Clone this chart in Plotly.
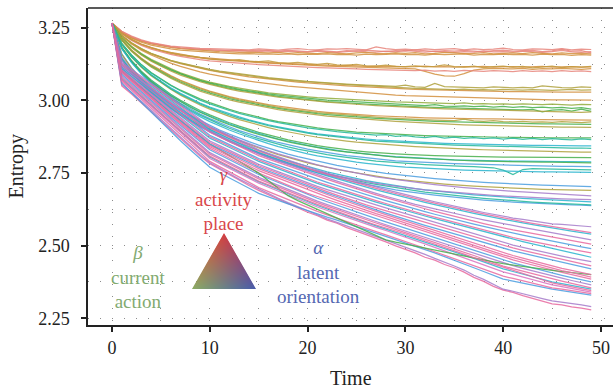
import base64, struct, zlib
import numpy as np
import plotly.graph_objects as go

TIME = list(range(50))

# ---- entropy values (in thousandths) ----
# plateau near 3.165
G1 = [
 [3265,3238,3221,3208,3199,3192,3187,3184,3181,3179, 3178,3177,3175,3176,3174,3177,3175,3173,3176,3178, 3175,3174,3177,3176,3178,3175,3174,3184,3178,3175, 3176,3174,3177,3175,3176,3178,3174,3177,3175,3176, 3180,3175,3174,3177,3176,3175,3178,3174,3176,3175],
 [3265,3236,3218,3205,3196,3189,3184,3180,3177,3175, 3173,3172,3170,3171,3169,3168,3170,3167,3169,3168, 3166,3169,3167,3165,3168,3170,3167,3166,3169,3167, 3172,3168,3166,3169,3167,3165,3168,3166,3170,3167, 3168,3166,3169,3167,3165,3168,3172,3167,3165,3168],
 [3265,3235,3216,3203,3194,3187,3182,3178,3175,3172, 3170,3168,3167,3165,3166,3164,3163,3165,3162,3164, 3163,3161,3164,3162,3160,3163,3165,3162,3161,3163, 3162,3164,3160,3162,3165,3163,3161,3162,3164,3160, 3162,3163,3161,3164,3162,3160,3163,3161,3162,3160],
 [3265,3234,3214,3200,3190,3183,3177,3173,3170,3167, 3165,3163,3162,3160,3161,3159,3160,3158,3160,3157, 3159,3158,3160,3157,3158,3156,3159,3157,3158,3160, 3157,3158,3156,3159,3157,3158,3160,3156,3158,3157, 3159,3157,3158,3156,3159,3157,3158,3155,3157,3156],
 [3265,3237,3219,3206,3197,3190,3185,3181,3178,3176, 3175,3173,3171,3172,3170,3173,3171,3169,3172,3170, 3168,3172,3170,3167,3171,3169,3173,3170,3168,3171, 3169,3174,3170,3168,3171,3169,3172,3170,3167,3171, 3173,3169,3170,3172,3168,3170,3176,3169,3171,3163],
]
# plateau near 3.11
G2 = [
 [3265,3231,3210,3194,3182,3172,3165,3158,3153,3148, 3145,3142,3139,3137,3134,3132,3130,3128,3127,3125, 3124,3122,3121,3119,3120,3118,3117,3118,3116,3117, 3115,3116,3118,3115,3116,3114,3116,3115,3117,3114, 3115,3116,3114,3115,3117,3114,3115,3116,3114,3115],
 [3265,3230,3208,3192,3180,3170,3162,3155,3150,3145, 3142,3139,3136,3134,3132,3130,3128,3126,3124,3123, 3121,3120,3118,3117,3116,3115,3114,3113,3112,3111, 3110,3108,3100,3090,3084,3083,3092,3104,3108,3110, 3109,3108,3110,3107,3109,3108,3110,3108,3107,3109],
 [3265,3229,3206,3189,3176,3166,3158,3151,3145,3140, 3136,3133,3130,3127,3125,3123,3121,3119,3118,3116, 3115,3113,3112,3110,3109,3108,3107,3106,3105,3104, 3103,3102,3104,3101,3102,3100,3103,3101,3100,3102, 3101,3099,3102,3100,3101,3099,3102,3100,3101,3099],
 [3265,3230,3209,3193,3181,3171,3163,3157,3152,3147, 3143,3140,3138,3140,3135,3133,3136,3130,3128,3131, 3126,3124,3127,3122,3121,3124,3119,3118,3121,3117, 3116,3119,3115,3117,3122,3116,3114,3118,3113,3116, 3118,3114,3117,3112,3115,3118,3113,3116,3114,3117],
]
# plateau near 3.03
G3 = [
 [3265,3223,3198,3178,3162,3149,3138,3129,3121,3113, 3107,3101,3096,3091,3086,3082,3078,3075,3071,3068, 3065,3063,3060,3058,3056,3054,3052,3050,3049,3048, 3052,3046,3045,3058,3047,3046,3044,3045,3043,3046, 3044,3043,3045,3043,3050,3046,3044,3043,3046,3045],
 [3265,3222,3196,3176,3160,3147,3136,3126,3118,3110, 3103,3097,3091,3086,3081,3077,3073,3069,3066,3063, 3060,3057,3055,3052,3050,3048,3046,3044,3042,3041, 3040,3038,3037,3036,3035,3034,3033,3032,3032,3031, 3031,3030,3030,3029,3029,3028,3028,3028,3027,3028],
 [3265,3221,3194,3173,3156,3141,3128,3117,3107,3098, 3090,3083,3077,3071,3066,3061,3057,3053,3049,3046, 3043,3040,3037,3034,3032,3029,3026,3023,3020,3018, 3016,3015,3013,3012,3011,3010,3009,3008,3007,3006, 3005,3005,3004,3003,3003,3002,3002,3001,3000,3001],
 [3265,3223,3197,3177,3161,3148,3137,3128,3120,3112, 3105,3099,3094,3089,3084,3080,3076,3073,3069,3066, 3064,3061,3058,3056,3054,3052,3050,3047,3045,3044, 3042,3041,3040,3039,3038,3037,3039,3036,3037,3035, 3038,3036,3035,3037,3035,3034,3036,3038,3035,3036],
]
# plateau near 2.975
G4 = [
 [3265,3216,3186,3161,3141,3124,3109,3095,3083,3072, 3063,3055,3048,3042,3036,3031,3026,3022,3018,3015, 3012,3009,3007,3005,3003,3001,2999,2998,2996,2995, 2994,2993,2992,2991,2990,2989,2991,2988,2989,2987, 2988,2986,2988,2987,2985,2987,2986,2984,2986,2985],
 [3265,3215,3184,3159,3138,3121,3106,3092,3080,3069, 3060,3052,3045,3038,3033,3027,3022,3018,3014,3010, 3007,3004,3001,2999,2996,2994,2992,2990,2988,2986, 2985,2983,2982,2985,2980,2979,2981,2978,2980,2977, 2979,2976,2978,2975,2977,2974,2976,2972,2975,2970],
 [3265,3214,3183,3158,3137,3119,3104,3090,3078,3067, 3057,3049,3041,3035,3029,3023,3019,3014,3010,3006, 3003,2999,2996,2994,2991,2989,2987,2985,2983,2981, 2980,2978,2977,2976,2975,2973,2972,2971,2970,2969, 2970,2968,2967,2969,2960,2966,2968,2963,2970,2962],
 [3265,3214,3182,3156,3135,3117,3101,3087,3075,3064, 3055,3046,3039,3032,3026,3021,3016,3011,3007,3003, 3000,2997,2994,2991,2989,2986,2984,2982,2980,2978, 2977,2975,2974,2972,2971,2970,2969,2968,2967,2966, 2965,2964,2963,2963,2962,2961,2961,2960,2959,2960],
]
# plateau near 2.92
G5 = [
 [3265,3209,3173,3145,3122,3102,3085,3069,3055,3043, 3032,3022,3013,3005,2998,2991,2985,2980,2975,2970, 2966,2962,2959,2956,2953,2951,2949,2947,2945,2944, 2942,2941,2940,2939,2938,2938,2937,2937,2936,2936, 2935,2935,2935,2934,2934,2934,2933,2933,2933,2932],
 [3265,3208,3172,3144,3120,3100,3083,3067,3053,3040, 3029,3019,3010,3002,2995,2988,2982,2976,2971,2966, 2962,2958,2955,2952,2949,2946,2944,2942,2940,2938, 2936,2935,2934,2932,2931,2930,2935,2929,2928,2930, 2927,2926,2928,2925,2926,2924,2927,2925,2923,2926],
 [3265,3207,3170,3141,3117,3097,3079,3063,3049,3036, 3025,3015,3006,2998,2991,2984,2978,2972,2967,2962, 2958,2954,2951,2948,2945,2942,2940,2938,2936,2934, 2932,2931,2929,2928,2927,2926,2925,2924,2923,2922, 2922,2921,2920,2920,2919,2919,2918,2918,2918,2917],
 [3265,3206,3169,3140,3115,3094,3076,3060,3045,3032, 3021,3011,3002,2994,2987,2980,2974,2968,2963,2958, 2954,2950,2946,2943,2940,2937,2934,2932,2930,2928, 2926,2924,2922,2921,2919,2918,2916,2915,2914,2913, 2912,2911,2911,2910,2909,2909,2908,2908,2907,2907],
]
# plateau near 2.82-2.87
G6 = [
 [3265,3196,3156,3123,3096,3073,3053,3035,3019,3005, 2992,2980,2969,2959,2950,2942,2934,2927,2921,2915, 2910,2905,2901,2897,2894,2891,2889,2887,2885,2883, 2882,2880,2879,2878,2877,2876,2876,2875,2874,2874, 2873,2873,2872,2872,2872,2871,2871,2871,2870,2871],
 [3265,3195,3155,3122,3094,3071,3051,3033,3016,3001, 2988,2976,2965,2955,2946,2937,2930,2923,2916,2911, 2905,2900,2896,2892,2889,2886,2883,2880,2882,2876, 2879,2874,2872,2876,2870,2873,2869,2872,2868,2871, 2867,2870,2866,2869,2865,2868,2866,2864,2867,2865],
 [3265,3193,3151,3117,3088,3064,3043,3024,3007,2991, 2977,2965,2953,2943,2933,2924,2916,2909,2902,2896, 2890,2885,2881,2877,2873,2870,2867,2864,2862,2860, 2858,2856,2855,2853,2852,2851,2850,2849,2848,2848, 2847,2846,2846,2845,2845,2844,2844,2844,2843,2843],
 [3265,3192,3149,3114,3085,3060,3038,3018,3000,2984, 2970,2957,2945,2934,2924,2915,2906,2898,2891,2885, 2879,2873,2868,2864,2860,2856,2853,2850,2847,2845, 2843,2841,2839,2837,2835,2834,2832,2831,2830,2829, 2828,2827,2826,2825,2825,2824,2823,2823,2822,2822],
 [3265,3193,3150,3116,3087,3062,3040,3021,3004,2988, 2974,2961,2950,2939,2930,2921,2913,2906,2899,2893, 2887,2882,2878,2874,2870,2866,2863,2860,2858,2856, 2854,2852,2850,2849,2847,2846,2845,2844,2843,2842, 2841,2840,2839,2839,2838,2837,2837,2836,2836,2835],
]
# plateau near 2.75-2.80
G8 = [
 [3265,3182,3137,3100,3070,3044,3021,3000,2982,2965, 2950,2936,2923,2911,2900,2890,2881,2872,2864,2857, 2850,2844,2839,2834,2830,2826,2823,2820,2818,2816, 2814,2812,2811,2810,2809,2808,2807,2807,2806,2806, 2805,2805,2805,2804,2804,2804,2803,2803,2803,2803],
 [3265,3181,3135,3098,3067,3041,3018,2997,2978,2961, 2946,2932,2919,2907,2896,2886,2876,2867,2859,2852, 2845,2839,2833,2828,2823,2819,2815,2812,2809,2806, 2804,2801,2799,2797,2796,2795,2794,2793,2793,2792, 2792,2791,2791,2790,2790,2790,2789,2789,2789,2788],
 [3265,3180,3133,3095,3063,3036,3012,2990,2971,2953, 2937,2922,2909,2896,2885,2874,2864,2855,2847,2839, 2832,2826,2820,2815,2810,2806,2802,2798,2795,2792, 2790,2788,2786,2784,2783,2782,2781,2780,2779,2778, 2777,2776,2775,2775,2774,2774,2773,2773,2772,2772],
 [3265,3179,3132,3093,3061,3033,3009,2987,2967,2949, 2933,2918,2904,2891,2879,2868,2858,2849,2840,2832, 2825,2819,2813,2808,2803,2799,2795,2791,2788,2785, 2783,2781,2779,2777,2776,2774,2773,2772,2770,2768, 2760,2745,2762,2765,2764,2763,2762,2762,2761,2761],
 [3265,3181,3134,3097,3066,3039,3016,2995,2976,2959, 2943,2929,2916,2904,2893,2883,2874,2865,2857,2850, 2843,2837,2831,2826,2822,2818,2814,2811,2808,2805, 2803,2801,2799,2797,2796,2794,2793,2792,2791,2790, 2789,2789,2788,2788,2787,2787,2786,2786,2786,2785],
 [3265,3178,3130,3091,3058,3030,3005,2983,2963,2944, 2927,2912,2898,2885,2873,2861,2851,2841,2832,2824, 2816,2809,2803,2797,2792,2787,2783,2779,2776,2773, 2770,2768,2766,2764,2763,2761,2760,2759,2758,2757, 2756,2756,2755,2755,2754,2754,2753,2753,2753,2752],
]
# plateau near 2.63-2.70
G9 = [
 [3265,3160,3112,3075,3043,3015,2991,2969,2949,2931, 2914,2898,2884,2870,2858,2846,2835,2825,2815,2806, 2798,2790,2783,2776,2770,2764,2759,2754,2749,2745, 2741,2737,2734,2731,2728,2725,2722,2720,2718,2716, 2714,2712,2711,2709,2708,2707,2706,2705,2704,2703],
 [3265,3158,3110,3072,3040,3012,2987,2964,2943,2924, 2906,2890,2875,2861,2848,2836,2824,2813,2803,2794, 2785,2777,2769,2762,2756,2750,2744,2739,2734,2729, 2725,2721,2718,2715,2712,2709,2707,2705,2703,2701, 2699,2698,2696,2695,2694,2693,2692,2691,2690,2690],
 [3265,3150,3105,3069,3038,3011,2987,2965,2945,2926, 2909,2893,2878,2864,2851,2839,2827,2816,2806,2796, 2787,2778,2770,2763,2756,2749,2743,2737,2732,2727, 2722,2718,2714,2710,2706,2703,2700,2697,2694,2692, 2689,2687,2685,2683,2681,2679,2677,2675,2673,2671],
 [3265,3145,3100,3063,3032,3005,2980,2958,2937,2918, 2900,2883,2868,2853,2840,2827,2815,2803,2792,2782, 2772,2763,2754,2746,2738,2731,2724,2718,2712,2706, 2701,2696,2692,2688,2684,2681,2678,2675,2672,2670, 2668,2665,2663,2661,2660,2658,2656,2654,2652,2651],
 [3265,3140,3096,3059,3027,2999,2974,2951,2930,2910, 2892,2875,2859,2844,2830,2817,2804,2792,2781,2770, 2760,2751,2742,2733,2725,2718,2711,2704,2698,2692, 2687,2682,2678,2674,2670,2666,2663,2660,2657,2654, 2652,2650,2648,2646,2644,2643,2641,2640,2639,2638],
 [3265,3142,3098,3061,3029,3001,2976,2953,2932,2913, 2895,2878,2862,2847,2833,2820,2808,2796,2785,2775, 2765,2756,2747,2739,2731,2724,2717,2711,2705,2699, 2694,2689,2684,2680,2676,2672,2669,2666,2663,2660, 2657,2655,2652,2650,2648,2646,2644,2642,2641,2640],
 [3265,3138,3094,3057,3025,2997,2972,2949,2928,2909, 2891,2874,2858,2843,2830,2817,2805,2794,2783,2773, 2764,2755,2747,2740,2733,2726,2720,2714,2709,2704, 2700,2696,2692,2689,2686,2683,2680,2677,2675,2673, 2671,2669,2667,2666,2664,2663,2661,2660,2659,2658],
]
# steadily falling lines
DESC = [
 [3265,3050,3022,2993,2961,2930,2900,2868,2839,2808, 2782,2763,2743,2726,2707,2690,2675,2659,2645,2629, 2615,2603,2588,2577,2562,2550,2538,2524,2513,2499, 2487,2475,2460,2450,2435,2424,2409,2391,2377,2360, 2347,2339,2328,2319,2308,2300,2296,2289,2285,2279],
 [3265,3055,3027,2998,2967,2935,2904,2873,2843,2813, 2785,2766,2748,2729,2712,2695,2680,2663,2648,2634, 2618,2606,2592,2580,2568,2555,2543,2532,2519,2507, 2495,2482,2470,2456,2444,2430,2416,2398,2384,2366, 2350,2343,2334,2327,2318,2310,2306,2300,2296,2290],
 [3265,3060,3026,2993,2959,2925,2893,2861,2830,2799, 2770,2751,2733,2714,2697,2680,2668,2655,2644,2632, 2620,2609,2598,2588,2576,2565,2554,2543,2532,2521, 2510,2498,2486,2475,2462,2450,2437,2424,2411,2398, 2385,2378,2371,2364,2356,2350,2345,2340,2335,2330],
 [3265,3065,3035,3005,2975,2945,2914,2883,2852,2821, 2790,2772,2754,2736,2718,2700,2686,2672,2658,2644, 2630,2618,2606,2594,2582,2570,2559,2548,2537,2526, 2515,2503,2491,2479,2467,2455,2443,2431,2419,2407, 2395,2387,2379,2371,2363,2355,2350,2345,2340,2335],
 [3265,3070,3040,3010,2980,2950,2920,2890,2860,2830, 2800,2783,2766,2749,2732,2715,2701,2687,2673,2659, 2645,2633,2621,2609,2597,2585,2574,2563,2552,2541, 2530,2518,2506,2494,2482,2470,2458,2446,2434,2422, 2410,2401,2392,2383,2374,2365,2359,2353,2346,2340],
 [3265,3075,3045,3015,2985,2955,2925,2895,2865,2835, 2805,2788,2771,2754,2737,2720,2706,2692,2678,2664, 2650,2638,2626,2614,2602,2590,2579,2568,2557,2546, 2535,2524,2513,2502,2491,2480,2468,2456,2444,2432, 2420,2411,2402,2393,2384,2375,2369,2362,2356,2350],
 [3265,3080,3050,3020,2990,2960,2931,2902,2873,2844, 2815,2798,2781,2764,2747,2730,2716,2702,2688,2674, 2660,2648,2636,2624,2612,2600,2589,2578,2567,2556, 2545,2534,2523,2512,2501,2490,2478,2466,2454,2442, 2430,2421,2412,2403,2394,2385,2378,2370,2363,2355],
 [3265,3085,3055,3025,2995,2965,2936,2907,2878,2849, 2820,2803,2786,2769,2752,2735,2721,2707,2693,2679, 2665,2653,2641,2629,2617,2605,2594,2583,2572,2561, 2550,2539,2528,2517,2506,2495,2484,2473,2462,2451, 2440,2431,2422,2413,2404,2395,2388,2380,2373,2365],
 [3265,3090,3060,3030,3000,2970,2942,2914,2886,2858, 2830,2813,2796,2779,2762,2745,2731,2717,2703,2689, 2675,2663,2651,2639,2627,2615,2604,2593,2582,2571, 2560,2549,2538,2527,2516,2505,2494,2483,2472,2461, 2450,2441,2432,2423,2414,2405,2398,2390,2383,2375],
 [3265,3095,3065,3035,3005,2975,2947,2919,2891,2863, 2835,2818,2801,2784,2767,2750,2736,2722,2708,2694, 2680,2669,2658,2647,2636,2625,2614,2603,2592,2581, 2570,2559,2548,2537,2526,2515,2504,2493,2482,2471, 2460,2451,2442,2433,2424,2415,2408,2400,2393,2385],
 [3265,3100,3071,3042,3013,2985,2958,2931,2904,2877, 2850,2830,2810,2790,2770,2750,2723,2697,2672,2655, 2640,2625,2610,2595,2580,2565,2550,2535,2520,2512, 2505,2498,2491,2484,2477,2470,2463,2457,2451,2444, 2438,2433,2429,2424,2420,2415,2411,2407,2404,2400],
 [3265,3100,3070,3040,3010,2980,2953,2926,2899,2872, 2845,2829,2813,2797,2781,2765,2752,2739,2726,2713, 2700,2688,2676,2664,2652,2640,2629,2618,2607,2596, 2585,2574,2563,2552,2541,2530,2519,2508,2497,2486, 2475,2466,2457,2448,2439,2430,2422,2415,2407,2400],
 [3265,3105,3075,3045,3015,2985,2958,2931,2904,2877, 2850,2834,2818,2802,2786,2770,2757,2744,2731,2718, 2705,2693,2681,2669,2657,2645,2634,2623,2612,2601, 2590,2580,2570,2560,2550,2540,2530,2520,2510,2500, 2490,2482,2474,2466,2458,2450,2442,2435,2427,2420],
 [3265,3105,3076,3047,3018,2990,2963,2936,2909,2882, 2855,2839,2823,2807,2791,2775,2762,2749,2736,2723, 2710,2698,2686,2674,2662,2650,2640,2630,2620,2610, 2600,2590,2580,2570,2560,2550,2540,2530,2520,2510, 2500,2492,2484,2476,2468,2460,2452,2445,2437,2430],
 [3265,3110,3081,3052,3023,2995,2968,2941,2914,2887, 2860,2844,2828,2812,2796,2780,2767,2754,2741,2728, 2715,2704,2693,2682,2671,2660,2650,2640,2630,2620, 2610,2600,2590,2580,2570,2560,2550,2540,2530,2520, 2510,2502,2494,2486,2478,2470,2464,2457,2451,2445],
 [3265,3110,3083,3055,3028,3000,2974,2948,2922,2896, 2870,2854,2838,2822,2806,2790,2777,2764,2751,2738, 2725,2714,2703,2692,2681,2670,2660,2650,2640,2630, 2620,2611,2602,2593,2584,2575,2566,2557,2548,2539, 2530,2522,2514,2506,2498,2490,2482,2475,2467,2460],
 [3265,3115,3088,3060,3033,3005,2979,2953,2927,2901, 2875,2859,2843,2827,2811,2795,2782,2769,2756,2743, 2730,2719,2708,2697,2686,2675,2665,2655,2645,2635, 2625,2616,2607,2598,2589,2580,2571,2562,2553,2544, 2535,2528,2521,2514,2507,2500,2494,2487,2481,2475],
 [3265,3115,3089,3063,3036,3010,2984,2958,2932,2906, 2880,2864,2848,2832,2816,2800,2788,2776,2764,2752, 2740,2729,2718,2707,2696,2685,2675,2665,2655,2645, 2635,2626,2617,2608,2599,2590,2582,2574,2566,2558, 2550,2543,2536,2529,2522,2515,2509,2502,2496,2490],
 [3265,3120,3094,3068,3041,3015,2990,2965,2940,2915, 2890,2874,2858,2842,2826,2810,2798,2786,2774,2762, 2750,2739,2728,2717,2706,2695,2685,2675,2665,2655, 2645,2636,2627,2618,2609,2600,2592,2584,2576,2568, 2560,2554,2548,2542,2536,2530,2524,2517,2511,2505],
 [3265,3120,3095,3070,3045,3020,2995,2970,2945,2920, 2895,2879,2863,2847,2831,2815,2803,2791,2779,2767, 2755,2744,2733,2722,2711,2700,2690,2680,2670,2660, 2650,2642,2634,2626,2618,2610,2603,2596,2589,2582, 2575,2569,2563,2557,2551,2545,2539,2532,2526,2520],
 [3265,3125,3100,3075,3050,3025,3000,2975,2950,2925, 2900,2884,2868,2852,2836,2820,2808,2796,2784,2772, 2760,2750,2740,2730,2720,2710,2701,2692,2683,2674, 2665,2657,2649,2641,2633,2625,2618,2611,2604,2597, 2590,2584,2578,2572,2566,2560,2555,2550,2545,2540],
 [3265,3125,3101,3078,3054,3030,3005,2980,2955,2930, 2905,2889,2873,2857,2841,2825,2813,2801,2789,2777, 2765,2755,2745,2735,2725,2715,2706,2697,2688,2679, 2670,2662,2654,2646,2638,2630,2623,2616,2609,2602, 2595,2589,2583,2577,2571,2565,2560,2555,2550,2545],
 [3265,3130,3106,3083,3059,3035,3010,2985,2960,2935, 2910,2894,2878,2862,2846,2830,2818,2806,2794,2782, 2770,2760,2750,2740,2730,2720,2711,2702,2693,2684, 2675,2667,2659,2651,2643,2635,2628,2621,2614,2607, 2600,2595,2590,2585,2580,2575,2573,2570,2568,2565],
 [3265,3072,3042,3012,2982,2952,2923,2894,2865,2836, 2808,2791,2774,2756,2739,2722,2709,2695,2682,2668, 2655,2642,2630,2617,2605,2592,2582,2571,2561,2550, 2540,2528,2517,2505,2494,2482,2471,2459,2448,2436, 2425,2414,2404,2393,2383,2372,2365,2358,2352,2345],
 [3265,3098,3068,3038,3008,2978,2950,2923,2895,2868, 2840,2824,2807,2791,2774,2758,2745,2732,2718,2705, 2692,2680,2668,2656,2644,2632,2621,2610,2600,2589, 2578,2567,2556,2544,2533,2522,2511,2500,2490,2479, 2468,2459,2450,2440,2431,2422,2414,2407,2399,2392],
]

SALMON, ORANGE, OLIVE, OLIVEGREEN = "#E8857C", "#D3903E", "#B0A23E", "#92AC3C"
GREEN, TEAL, CYAN, BLUE = "#47B04C", "#22B89A", "#2AB5CF", "#4B9EE0"
PURPLE, PINK, MAGENTA = "#A67CCB", "#E8699F", "#D972C0"

G1_COL = [SALMON, SALMON, ORANGE, ORANGE, SALMON]
G2_COL = [ORANGE, ORANGE, SALMON, "#C49A3C"]
G3_COL = [OLIVE, ORANGE, ORANGE, OLIVE]
G4_COL = [OLIVEGREEN, GREEN, GREEN, OLIVE]
G5_COL = [ORANGE, OLIVE, GREEN, OLIVE]
G6_COL = [GREEN, TEAL, CYAN, OLIVE, TEAL]
G8_COL = [GREEN, CYAN, BLUE, TEAL, GREEN, CYAN]
G9_COL = [BLUE, OLIVE, PURPLE, CYAN, BLUE, TEAL, PURPLE]
DESC_COL = [PINK, PURPLE, BLUE, PINK, MAGENTA, CYAN, PINK, PURPLE, BLUE, PINK,
            GREEN, PINK, BLUE, PINK, PURPLE, CYAN, PINK, BLUE, PINK, PURPLE,
            CYAN, PINK, PURPLE, PINK, PINK]

X_RANGE = [-2.454, 51.227]
Y_RANGE = [2.2269, 3.3178]

fig = go.Figure()
groups = [(G1, G1_COL), (G2, G2_COL), (G3, G3_COL), (G4, G4_COL), (G5, G5_COL),
          (G6, G6_COL), (G8, G8_COL), (G9, G9_COL), (DESC, DESC_COL)]
for lines, cols in groups:
    for vals, col in zip(lines, cols):
        fig.add_trace(go.Scatter(x=TIME[:len(vals)], y=[v / 1000 for v in vals], mode="lines",
                                 line=dict(color=col, width=1.25), opacity=0.85,
                                 hoverinfo="skip", showlegend=False))

# ---- gradient triangle (ternary colour key) ----
W, H, SS = 64, 56, 4
yy, xx = np.mgrid[0:H * SS, 0:W * SS]
px = (xx + 0.5) / SS
py = (yy + 0.5) / SS
ax_, ay_ = W / 2, 0.0
bx_, by_ = 0.0, float(H)
cx_, cy_ = float(W), float(H)
det = (by_ - cy_) * (ax_ - cx_) + (cx_ - bx_) * (ay_ - cy_)
la = ((by_ - cy_) * (px - cx_) + (cx_ - bx_) * (py - cy_)) / det
lb = ((cy_ - ay_) * (px - cx_) + (ax_ - cx_) * (py - cy_)) / det
lc = 1 - la - lb
inside = ((la >= 0) & (lb >= 0) & (lc >= 0)).astype(float)
RED_C = np.array([214, 62, 64.0])
GRN_C = np.array([140, 172, 100.0])
BLU_C = np.array([72, 92, 172.0])
la2, lb2, lc2 = [np.clip(v, 0, 1) for v in (la, lb, lc)]
col = la2[..., None] * RED_C + lb2[..., None] * GRN_C + lc2[..., None] * BLU_C
colw = col * inside[..., None]
colw = colw.reshape(H, SS, W, SS, 3).sum(axis=(1, 3))
wsum = inside.reshape(H, SS, W, SS).sum(axis=(1, 3))
rgb = np.where(wsum[..., None] > 0, colw / np.maximum(wsum[..., None], 1e-9), 255)
alpha = wsum / (SS * SS)
rgba = np.concatenate([rgb, (alpha * 255)[..., None]], axis=2).clip(0, 255).astype(np.uint8)


def png_bytes(arr):
    h, w, _ = arr.shape
    raw = b"".join(b"\x00" + arr[r].tobytes() for r in range(h))

    def chunk(tag, data):
        return struct.pack(">I", len(data)) + tag + data + struct.pack(">I", zlib.crc32(tag + data) & 0xFFFFFFFF)
    return (b"\x89PNG\r\n\x1a\n" + chunk(b"IHDR", struct.pack(">IIBBBBB", w, h, 8, 6, 0, 0, 0))
            + chunk(b"IDAT", zlib.compress(raw, 9)) + chunk(b"IEND", b""))


tri_uri = "data:image/png;base64," + base64.b64encode(png_bytes(rgba)).decode()
fig.add_layout_image(dict(source=tri_uri, xref="x", yref="y", x=8.18, y=2.5435,
                          sizex=W / 9.78, sizey=H / 290.6, xanchor="left", yanchor="top",
                          sizing="stretch", layer="above"))

FONT = "Liberation Serif"
RED_T, GRN_T, BLU_T = "#D9474A", "#82AA70", "#5568B2"
ann = [
    ("<i>γ</i><br>activity<br>place", 11.35, 2.6600, RED_T),
    ("<i>β</i><br>current<br>action", 2.73, 2.3921, GRN_T),
    ("<i>α</i><br>latent<br>orientation", 21.1, 2.4094, BLU_T),
]
for txt, x, y, c in ann:
    fig.add_annotation(text=txt, x=x, y=y, xref="x", yref="y", showarrow=False,
                       font=dict(family=FONT, size=19, color=c), xanchor="center", yanchor="middle",
                       align="center")

fig.add_annotation(text="Entropy", xref="paper", yref="paper", x=0, y=0.5, xshift=-72,
                   textangle=-90, showarrow=False, font=dict(family=FONT, size=20, color="#222"),
                   xanchor="center", yanchor="middle")
fig.add_annotation(text="Time", xref="paper", yref="paper", x=0.5, y=0, yshift=-53,
                   showarrow=False, font=dict(family=FONT, size=20, color="#222"),
                   xanchor="center", yanchor="middle")

grid = dict(gridcolor="#8c8c8c", griddash="1px,11px", gridwidth=1.4)
fig.update_xaxes(range=X_RANGE, dtick=10, tick0=0, ticks="outside", ticklen=5, tickwidth=1.5,
                 tickcolor="#222", showline=True, linecolor="#222", linewidth=1.5,
                 showgrid=True, zeroline=False, ticklabelstandoff=1,
                 tickfont=dict(family=FONT, size=18, color="#222"),
                 minor=dict(dtick=5, tick0=0, showgrid=True, **grid), **grid)
fig.update_yaxes(range=Y_RANGE, dtick=0.25, tick0=2.25, tickformat=".2f", ticks="outside", ticklen=5,
                 tickwidth=1.5, tickcolor="#222", showline=True, linecolor="#222", linewidth=1.5,
                 showgrid=True, zeroline=False, ticklabelstandoff=8,
                 tickfont=dict(family=FONT, size=18, color="#222"),
                 minor=dict(dtick=0.125, tick0=2.25, showgrid=True, **grid), **grid)
fig.add_shape(type="line", xref="paper", yref="paper", x0=0, x1=1, y0=1, y1=1,
              line=dict(color="#222", width=1.5))
fig.update_layout(width=613, height=390, margin=dict(l=88, r=0, t=8, b=65),
                  plot_bgcolor="white", paper_bgcolor="white", showlegend=False,
                  font=dict(family=FONT, size=18, color="#222"))
fig.write_html("out.html")
